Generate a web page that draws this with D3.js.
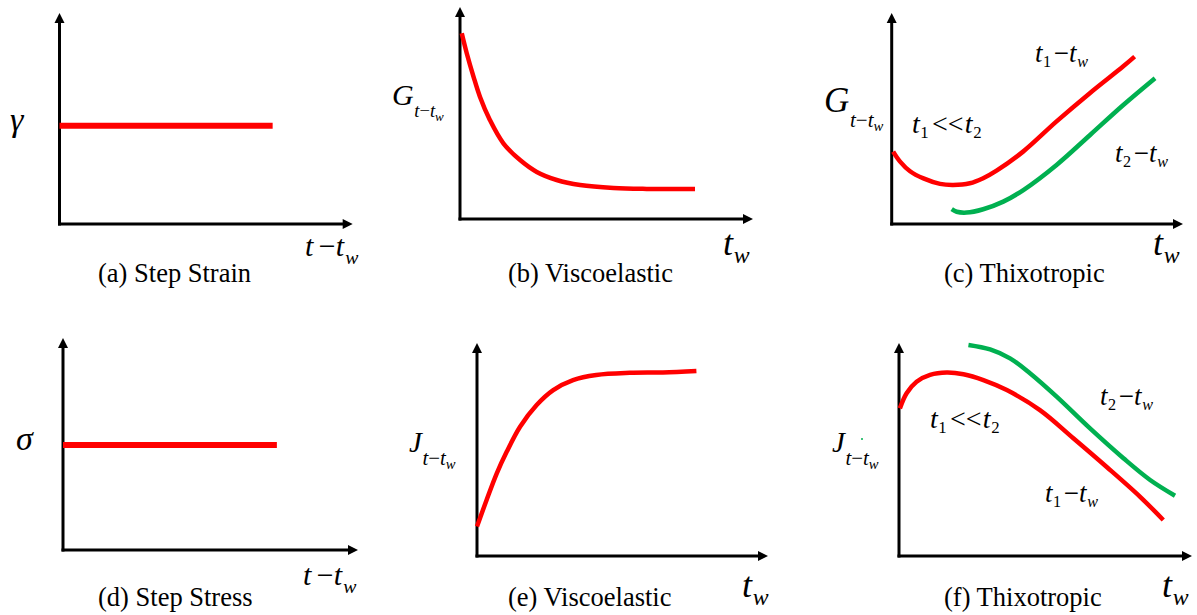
<!DOCTYPE html>
<html>
<head>
<meta charset="utf-8">
<script src="https://cdn.jsdelivr.net/npm/d3@7"></script>
</head>
<body style="margin:0">
<svg id="chart" width="1197" height="615"></svg>
<script>
// Response sketches: step input and material response, values on a 0–100 schematic scale.

// (a) step strain: [time, level]
const stepStrain = [[0, 46.6], [72.7, 46.6]];
// (d) step stress
const stepStress = [[0, 49.5], [72.5, 49.5]];
// (b) viscoelastic relaxation modulus vs waiting time
const viscoG = [[0.6, 87.6], [2.3, 78.2], [4.6, 67.2], [6.8, 57.7], [10.2, 46.7], [14.8, 35.7],
  [20.5, 27.8], [26.2, 22.2], [33.0, 18.4], [41.0, 16.0], [52.4, 14.6], [63.7, 14.2], [80.2, 14.2]];
// (c) thixotropic modulus for two probe times t1 << t2
const thixoG1 = [[0.5, 34.3], [2.8, 29.7], [6.3, 25.0], [10.9, 21.6], [16.6, 19.0], [21.1, 18.5],
  [26.8, 19.3], [31.4, 21.7], [36.0, 25.3], [45.1, 34.3], [56.5, 48.5], [68.0, 62.0], [79.4, 74.6], [83.4, 79.3]];
const thixoG2 = [[20.6, 7.0], [22.3, 5.8], [25.7, 5.4], [31.4, 7.0], [38.3, 10.6], [45.2, 16.1],
  [56.6, 28.0], [68.1, 42.2], [79.5, 56.4], [90.4, 69.1]];
// (e) viscoelastic compliance
const viscoJ = [[0, 13.8], [3.3, 26.3], [6.8, 38.8], [10.2, 48.9], [14.8, 60.7], [20.5, 70.9],
  [26.2, 77.9], [33.0, 82.6], [41.0, 85.0], [52.5, 86.0], [63.9, 86.2], [75.4, 86.9]];
// (f) thixotropic compliance
const thixoJ1 = [[0.3, 69.3], [2.6, 76.4], [6.0, 81.8], [10.6, 85.0], [16.3, 86.1], [22.0, 85.3],
  [28.8, 82.6], [36.8, 77.9], [48.1, 68.5], [59.5, 55.3], [70.9, 41.8], [82.3, 27.8], [90.2, 16.9]];
const thixoJ2 = [[23.7, 99.1], [31.1, 97.0], [37.9, 92.8], [44.7, 85.8], [53.8, 74.8], [65.2, 59.9],
  [76.6, 45.9], [85.7, 35.7], [94.2, 28.3]];

const captions = ["(a) Step Strain", "(b) Viscoelastic", "(c) Thixotropic",
                  "(d) Step Stress", "(e) Viscoelastic", "(f) Thixotropic"];

const RED = "#ff0000", GREEN = "#00b050";
const FACE = "Liberation Serif";
const SERIF = `"${FACE}", monospace`;

const svg = d3.select("#chart");

// Axis frame of each panel: [left, right(arrow tip), bottom, top(arrow tip)]
const frames = [
  [59.5, 352.7, 224, 13],
  [460, 753, 219, 7],
  [891.7, 1183, 224, 13],
  [63, 358, 550, 338],
  [477, 768, 556, 343],
  [899, 1192, 556, 343]
];
const captionPos = [[98, 282], [508, 282], [944, 282], [98, 606], [508, 606], [944, 606]];

// text layer drawn after the plot marks
const marks = svg.append("g");
const labels = svg.append("g");

// Math-style label: italic variables, upright operators/digits, shifted subscripts.
function mathLabel(x, y, size, parts) {
  const text = labels.append("text")
    .attr("x", x).attr("y", y)
    .style("font-family", SERIF, "important")
    .style("font-size", size + "px")
    .style("fill", "#000");
  let cur = 0;
  parts.forEach(p => {
    const off = p.off || 0;
    const ts = text.append("tspan")
      .text(p.t)
      .style("font-family", SERIF, "important")
      .style("font-size", size * (p.s || 1) + "px")
      .style("font-style", p.up ? "normal" : "italic")
      .attr("dy", (off - cur) * size);
    if (p.dx) ts.attr("dx", p.dx * size);
    cur = off;
  });
  return text;
}

function panel(i, series) {
  const [x0, x1, y0, y1] = frames[i];
  const xs = d3.scaleLinear().domain([0, 100]).range([x0, x1]);
  const ys = d3.scaleLinear().domain([0, 100]).range([y0, y1]);
  const g = marks.append("g");

  // axis lines from the scales, with arrowheads at the far ends
  const ah = 10, aw = 5;
  g.append("path")
    .attr("d", `M${xs(0) - 1.5},${ys(0)}H${xs(100) - ah + 1}`)
    .attr("stroke", "#000").attr("stroke-width", 3);
  g.append("path")
    .attr("d", `M${xs(0)},${ys(0) + 1.5}V${ys(100) + ah - 1}`)
    .attr("stroke", "#000").attr("stroke-width", 3);
  g.append("path")
    .attr("d", `M${xs(100)},${ys(0)}L${xs(100) - ah},${ys(0) - aw}L${xs(100) - ah},${ys(0) + aw}Z`)
    .attr("fill", "#000");
  g.append("path")
    .attr("d", `M${xs(0)},${ys(100)}L${xs(0) - aw},${ys(100) + ah}L${xs(0) + aw},${ys(100) + ah}Z`)
    .attr("fill", "#000");

  series.forEach(s => {
    const line = d3.line()
      .x(d => xs(d[0])).y(d => ys(d[1]))
      .curve(s.data.length > 2 ? d3.curveCatmullRom.alpha(0.5) : d3.curveLinear);
    g.append("path")
      .datum(s.data)
      .attr("d", line)
      .attr("fill", "none")
      .attr("stroke", s.color)
      .attr("stroke-width", s.width)
      .attr("stroke-linecap", "butt");
  });

  mathLabel(captionPos[i][0], captionPos[i][1], 26.5, [{ t: captions[i], up: true }]);
  return { xs, ys };
}

panel(0, [{ data: stepStrain, color: RED, width: 6 }]);
panel(1, [{ data: viscoG, color: RED, width: 4.5 }]);
panel(2, [{ data: thixoG1, color: RED, width: 4.5 }, { data: thixoG2, color: GREEN, width: 4.5 }]);
panel(3, [{ data: stepStress, color: RED, width: 6 }]);
panel(4, [{ data: viscoJ, color: RED, width: 4.5 }]);
panel(5, [{ data: thixoJ1, color: RED, width: 4.5 }, { data: thixoJ2, color: GREEN, width: 4.5 }]);

// --- axis symbols ---
const MINUS = "\u2212";
// t − t_w on the time axes of the step panels
function tMinusTw(x, y, size) {
  mathLabel(x, y, size, [
    { t: "t" }, { t: MINUS, up: true, dx: 0.18 }, { t: "t" },
    { t: "w", s: 0.66, off: 0.25, dx: 0.04 }
  ]);
}
tMinusTw(305, 256, 30);
tMinusTw(303, 585, 30);

// t_w on the waiting-time axes
function tw(x, y) {
  mathLabel(x, y, 36, [{ t: "t" }, { t: "w", s: 0.66, off: 0.22, dx: 0.02 }]);
}
tw(723, 255);
tw(1153, 255);
tw(742, 597);
tw(1162, 597);

// γ and σ
mathLabel(10, 131, 34, [{ t: "\u03b3" }]);
mathLabel(16, 450, 34, [{ t: "\u03c3" }]);

// modulus/compliance symbols with t − t_w subscript
function subLabel(letter, x, y, size, subSize, subOff) {
  mathLabel(x, y, size, [
    { t: letter },
    { t: "t", s: subSize, off: subOff, dx: 0.02 },
    { t: MINUS, s: subSize, off: subOff, up: true },
    { t: "t", s: subSize, off: subOff },
    { t: "w", s: subSize * 0.7, off: subOff + 0.12 }
  ]);
}
subLabel("G", 392, 105, 30, 0.62, 0.4);
subLabel("G", 824, 112, 35, 0.6, 0.43);
subLabel("J", 409, 452, 29, 0.72, 0.45);
subLabel("J", 832, 452, 29, 0.72, 0.45);

// stray green speck near J in (f)
marks.append("circle").attr("cx", 862).attr("cy", 439).attr("r", 1).attr("fill", GREEN);

// probe-time annotations
function tRel(x, y, a, b) {
  mathLabel(x, y, 28, [
    { t: "t" }, { t: a, up: true, s: 0.6, off: 0.18, dx: 0.02 },
    { t: "<<", up: true, dx: 0.12 }, { t: "t", dx: 0.04 },
    { t: b, up: true, s: 0.6, off: 0.18, dx: 0.02 }
  ]);
}
tRel(912, 133, "1", "2");
tRel(930, 428, "1", "2");

function tDiff(x, y, n) {
  mathLabel(x, y, 27, [
    { t: "t" }, { t: n, up: true, s: 0.6, off: 0.18, dx: 0.02 },
    { t: MINUS, up: true, dx: 0.1 }, { t: "t" },
    { t: "w", s: 0.6, off: 0.18, dx: 0.02 }
  ]);
}
tDiff(1035, 62, "1");
tDiff(1115, 162, "2");
tDiff(1100, 405, "2");
tDiff(1045, 502, "1");
</script>
</body>
</html>
